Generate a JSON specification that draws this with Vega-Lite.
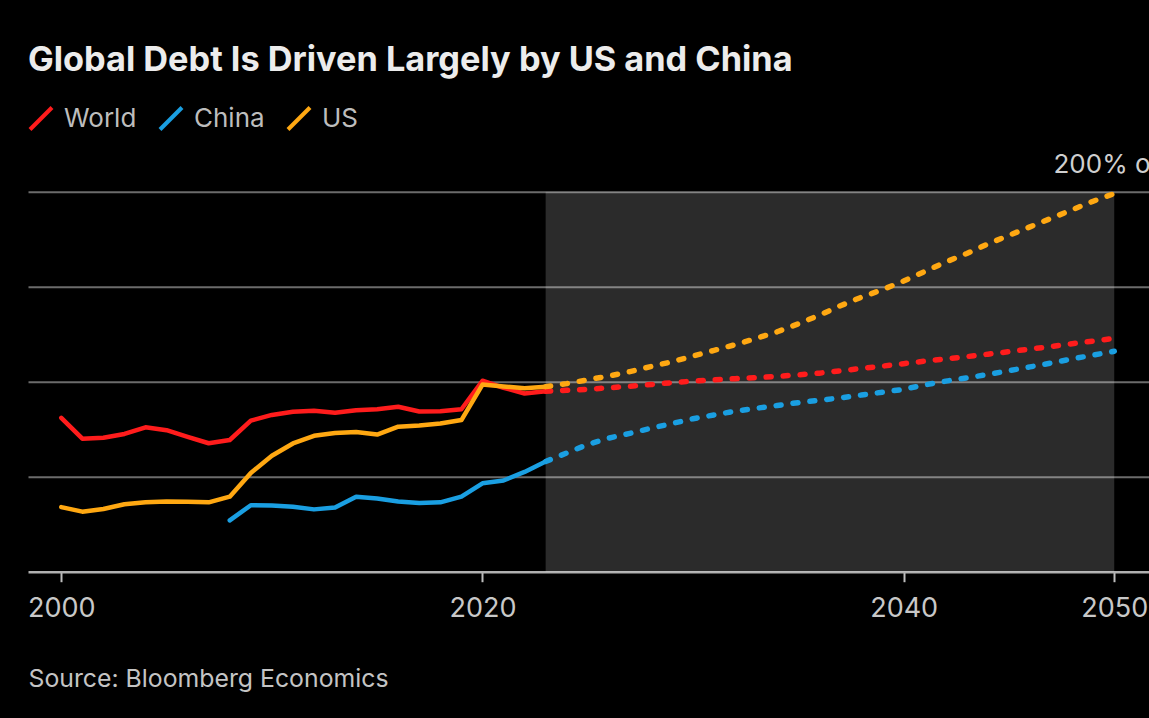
{
  "$schema": "https://vega.github.io/schema/vega-lite/v6.json",
  "width": 1121,
  "height": 380,
  "autosize": {"type": "none"},
  "padding": {"left": 28, "top": 191.7, "right": 0, "bottom": 146.3},
  "background": "#000000",
  "title": {
    "text": "Global Debt Is Driven Largely by US and China",
    "anchor": "start",
    "frame": "group",
    "offset": 0.5,
    "baseline": "alphabetic",
    "font": "Inter",
    "fontSize": 34.3,
    "fontWeight": 700,
    "color": "#ececec"
  },
  "config": {
    "view": {"stroke": null},
    "legend": {
      "symbolType": "M-1,1L1,-1",
      "symbolSize": 484,
      "symbolStrokeWidth": 4,
      "symbolDash": [],
      "labelFont": "Inter",
      "labelFontSize": 26,
      "labelColor": "#bdbdbd",
      "labelOffset": 10,
      "columnPadding": 15,
      "padding": 0,
      "labelLimit": 400
    }
  },
  "datasets": {
    "band": [{"start": 2023, "end": 2050}],
    "debt": [
      {"year": 2000, "value": 81, "country": "World", "kind": "actual"},
      {"year": 2001, "value": 70, "country": "World", "kind": "actual"},
      {"year": 2002, "value": 70.5, "country": "World", "kind": "actual"},
      {"year": 2003, "value": 72.5, "country": "World", "kind": "actual"},
      {"year": 2004, "value": 76, "country": "World", "kind": "actual"},
      {"year": 2005, "value": 74.5, "country": "World", "kind": "actual"},
      {"year": 2006, "value": 71, "country": "World", "kind": "actual"},
      {"year": 2007, "value": 67.6, "country": "World", "kind": "actual"},
      {"year": 2008, "value": 69.3, "country": "World", "kind": "actual"},
      {"year": 2009, "value": 79.5, "country": "World", "kind": "actual"},
      {"year": 2010, "value": 82.5, "country": "World", "kind": "actual"},
      {"year": 2011, "value": 84.2, "country": "World", "kind": "actual"},
      {"year": 2012, "value": 84.7, "country": "World", "kind": "actual"},
      {"year": 2013, "value": 83.7, "country": "World", "kind": "actual"},
      {"year": 2014, "value": 85, "country": "World", "kind": "actual"},
      {"year": 2015, "value": 85.5, "country": "World", "kind": "actual"},
      {"year": 2016, "value": 86.8, "country": "World", "kind": "actual"},
      {"year": 2017, "value": 84.3, "country": "World", "kind": "actual"},
      {"year": 2018, "value": 84.5, "country": "World", "kind": "actual"},
      {"year": 2019, "value": 85.5, "country": "World", "kind": "actual"},
      {"year": 2020, "value": 100.5, "country": "World", "kind": "actual"},
      {"year": 2021, "value": 96.8, "country": "World", "kind": "actual"},
      {"year": 2022, "value": 93.8, "country": "World", "kind": "actual"},
      {"year": 2023, "value": 95, "country": "World", "kind": "actual"},
      {"year": 2008, "value": 27, "country": "China", "kind": "actual"},
      {"year": 2009, "value": 35, "country": "China", "kind": "actual"},
      {"year": 2010, "value": 34.8, "country": "China", "kind": "actual"},
      {"year": 2011, "value": 34.2, "country": "China", "kind": "actual"},
      {"year": 2012, "value": 32.8, "country": "China", "kind": "actual"},
      {"year": 2013, "value": 33.8, "country": "China", "kind": "actual"},
      {"year": 2014, "value": 39.5, "country": "China", "kind": "actual"},
      {"year": 2015, "value": 38.5, "country": "China", "kind": "actual"},
      {"year": 2016, "value": 37, "country": "China", "kind": "actual"},
      {"year": 2017, "value": 36.2, "country": "China", "kind": "actual"},
      {"year": 2018, "value": 36.5, "country": "China", "kind": "actual"},
      {"year": 2019, "value": 39.5, "country": "China", "kind": "actual"},
      {"year": 2020, "value": 46.5, "country": "China", "kind": "actual"},
      {"year": 2021, "value": 48, "country": "China", "kind": "actual"},
      {"year": 2022, "value": 52.5, "country": "China", "kind": "actual"},
      {"year": 2023, "value": 58, "country": "China", "kind": "actual"},
      {"year": 2000, "value": 34, "country": "US", "kind": "actual"},
      {"year": 2001, "value": 31.6, "country": "US", "kind": "actual"},
      {"year": 2002, "value": 33, "country": "US", "kind": "actual"},
      {"year": 2003, "value": 35.5, "country": "US", "kind": "actual"},
      {"year": 2004, "value": 36.5, "country": "US", "kind": "actual"},
      {"year": 2005, "value": 37, "country": "US", "kind": "actual"},
      {"year": 2006, "value": 36.8, "country": "US", "kind": "actual"},
      {"year": 2007, "value": 36.5, "country": "US", "kind": "actual"},
      {"year": 2008, "value": 39.5, "country": "US", "kind": "actual"},
      {"year": 2009, "value": 52, "country": "US", "kind": "actual"},
      {"year": 2010, "value": 61, "country": "US", "kind": "actual"},
      {"year": 2011, "value": 67.5, "country": "US", "kind": "actual"},
      {"year": 2012, "value": 71.5, "country": "US", "kind": "actual"},
      {"year": 2013, "value": 73, "country": "US", "kind": "actual"},
      {"year": 2014, "value": 73.5, "country": "US", "kind": "actual"},
      {"year": 2015, "value": 72.2, "country": "US", "kind": "actual"},
      {"year": 2016, "value": 76.3, "country": "US", "kind": "actual"},
      {"year": 2017, "value": 77, "country": "US", "kind": "actual"},
      {"year": 2018, "value": 78, "country": "US", "kind": "actual"},
      {"year": 2019, "value": 79.8, "country": "US", "kind": "actual"},
      {"year": 2020, "value": 98.5, "country": "US", "kind": "actual"},
      {"year": 2021, "value": 97.5, "country": "US", "kind": "actual"},
      {"year": 2022, "value": 96.5, "country": "US", "kind": "actual"},
      {"year": 2023, "value": 97.4, "country": "US", "kind": "actual"},
      {"year": 2023, "value": 95, "country": "World", "kind": "forecast"},
      {"year": 2024, "value": 95.5, "country": "World", "kind": "forecast"},
      {"year": 2025, "value": 96, "country": "World", "kind": "forecast"},
      {"year": 2026, "value": 96.8, "country": "World", "kind": "forecast"},
      {"year": 2027, "value": 97.6, "country": "World", "kind": "forecast"},
      {"year": 2028, "value": 98.5, "country": "World", "kind": "forecast"},
      {"year": 2029, "value": 99.5, "country": "World", "kind": "forecast"},
      {"year": 2030, "value": 100.3, "country": "World", "kind": "forecast"},
      {"year": 2031, "value": 101, "country": "World", "kind": "forecast"},
      {"year": 2032, "value": 101.6, "country": "World", "kind": "forecast"},
      {"year": 2033, "value": 102.2, "country": "World", "kind": "forecast"},
      {"year": 2034, "value": 102.8, "country": "World", "kind": "forecast"},
      {"year": 2035, "value": 103.6, "country": "World", "kind": "forecast"},
      {"year": 2036, "value": 104.5, "country": "World", "kind": "forecast"},
      {"year": 2037, "value": 105.7, "country": "World", "kind": "forecast"},
      {"year": 2038, "value": 107, "country": "World", "kind": "forecast"},
      {"year": 2039, "value": 108.2, "country": "World", "kind": "forecast"},
      {"year": 2040, "value": 109.5, "country": "World", "kind": "forecast"},
      {"year": 2041, "value": 110.8, "country": "World", "kind": "forecast"},
      {"year": 2042, "value": 112, "country": "World", "kind": "forecast"},
      {"year": 2043, "value": 113.2, "country": "World", "kind": "forecast"},
      {"year": 2044, "value": 114.5, "country": "World", "kind": "forecast"},
      {"year": 2045, "value": 115.8, "country": "World", "kind": "forecast"},
      {"year": 2046, "value": 117.2, "country": "World", "kind": "forecast"},
      {"year": 2047, "value": 118.5, "country": "World", "kind": "forecast"},
      {"year": 2048, "value": 120, "country": "World", "kind": "forecast"},
      {"year": 2049, "value": 121.4, "country": "World", "kind": "forecast"},
      {"year": 2050, "value": 122.8, "country": "World", "kind": "forecast"},
      {"year": 2023, "value": 58, "country": "China", "kind": "forecast"},
      {"year": 2024, "value": 62.5, "country": "China", "kind": "forecast"},
      {"year": 2025, "value": 67, "country": "China", "kind": "forecast"},
      {"year": 2026, "value": 70.3, "country": "China", "kind": "forecast"},
      {"year": 2027, "value": 72.8, "country": "China", "kind": "forecast"},
      {"year": 2028, "value": 75.5, "country": "China", "kind": "forecast"},
      {"year": 2029, "value": 78, "country": "China", "kind": "forecast"},
      {"year": 2030, "value": 80.5, "country": "China", "kind": "forecast"},
      {"year": 2031, "value": 82.5, "country": "China", "kind": "forecast"},
      {"year": 2032, "value": 84.5, "country": "China", "kind": "forecast"},
      {"year": 2033, "value": 86, "country": "China", "kind": "forecast"},
      {"year": 2034, "value": 87.5, "country": "China", "kind": "forecast"},
      {"year": 2035, "value": 89, "country": "China", "kind": "forecast"},
      {"year": 2036, "value": 90.2, "country": "China", "kind": "forecast"},
      {"year": 2037, "value": 91.5, "country": "China", "kind": "forecast"},
      {"year": 2038, "value": 93, "country": "China", "kind": "forecast"},
      {"year": 2039, "value": 94.5, "country": "China", "kind": "forecast"},
      {"year": 2040, "value": 96, "country": "China", "kind": "forecast"},
      {"year": 2041, "value": 98.3, "country": "China", "kind": "forecast"},
      {"year": 2042, "value": 100.3, "country": "China", "kind": "forecast"},
      {"year": 2043, "value": 102, "country": "China", "kind": "forecast"},
      {"year": 2044, "value": 103.8, "country": "China", "kind": "forecast"},
      {"year": 2045, "value": 105.8, "country": "China", "kind": "forecast"},
      {"year": 2046, "value": 107.8, "country": "China", "kind": "forecast"},
      {"year": 2047, "value": 109.8, "country": "China", "kind": "forecast"},
      {"year": 2048, "value": 112, "country": "China", "kind": "forecast"},
      {"year": 2049, "value": 114, "country": "China", "kind": "forecast"},
      {"year": 2050, "value": 116, "country": "China", "kind": "forecast"},
      {"year": 2023, "value": 97.4, "country": "US", "kind": "forecast"},
      {"year": 2024, "value": 99, "country": "US", "kind": "forecast"},
      {"year": 2025, "value": 101, "country": "US", "kind": "forecast"},
      {"year": 2026, "value": 103, "country": "US", "kind": "forecast"},
      {"year": 2027, "value": 105.3, "country": "US", "kind": "forecast"},
      {"year": 2028, "value": 108, "country": "US", "kind": "forecast"},
      {"year": 2029, "value": 110.5, "country": "US", "kind": "forecast"},
      {"year": 2030, "value": 113.5, "country": "US", "kind": "forecast"},
      {"year": 2031, "value": 116.5, "country": "US", "kind": "forecast"},
      {"year": 2032, "value": 119.5, "country": "US", "kind": "forecast"},
      {"year": 2033, "value": 122.8, "country": "US", "kind": "forecast"},
      {"year": 2034, "value": 126.3, "country": "US", "kind": "forecast"},
      {"year": 2035, "value": 130.5, "country": "US", "kind": "forecast"},
      {"year": 2036, "value": 135, "country": "US", "kind": "forecast"},
      {"year": 2037, "value": 140, "country": "US", "kind": "forecast"},
      {"year": 2038, "value": 144.5, "country": "US", "kind": "forecast"},
      {"year": 2039, "value": 148.5, "country": "US", "kind": "forecast"},
      {"year": 2040, "value": 153, "country": "US", "kind": "forecast"},
      {"year": 2041, "value": 158, "country": "US", "kind": "forecast"},
      {"year": 2042, "value": 163, "country": "US", "kind": "forecast"},
      {"year": 2043, "value": 167.5, "country": "US", "kind": "forecast"},
      {"year": 2044, "value": 172.5, "country": "US", "kind": "forecast"},
      {"year": 2045, "value": 177, "country": "US", "kind": "forecast"},
      {"year": 2046, "value": 181.5, "country": "US", "kind": "forecast"},
      {"year": 2047, "value": 186, "country": "US", "kind": "forecast"},
      {"year": 2048, "value": 190.5, "country": "US", "kind": "forecast"},
      {"year": 2049, "value": 195, "country": "US", "kind": "forecast"},
      {"year": 2050, "value": 199, "country": "US", "kind": "forecast"}
    ]
  },
  "resolve": {"axis": {"y": "independent"}},
  "layer": [
    {
      "data": {"name": "band"},
      "mark": {"type": "rect", "fill": "#ffffff", "opacity": 0.17},
      "encoding": {
        "x": {
          "field": "start", "type": "quantitative",
          "scale": {"domain": [1998.42, 2051.65], "nice": false, "zero": false},
          "axis": {
            "values": [2000, 2020, 2040, 2050], "format": "d", "grid": false,
            "labelFont": "Inter", "labelFontSize": 27, "labelColor": "#c8c8c8",
            "labelPadding": 14, "labelFlush": false, "labelOverlap": false,
            "tickColor": "#bdbdbd", "tickSize": 10, "tickWidth": 2,
            "domainColor": "#b0b0b0", "domainWidth": 2.5,
            "title": "Source: Bloomberg Economics", "titleFont": "Inter", "titleFontSize": 24.8,
            "titleFontWeight": 400, "titleColor": "#c4c4c4", "titleX": 0, "titleY": 115,
            "titleAlign": "left", "titleBaseline": "alphabetic", "titleAnchor": "start"
          }
        },
        "x2": {"field": "end"},
        "y": {"datum": 0, "type": "quantitative", "scale": {"domain": [0, 200], "nice": false}, "axis": null},
        "y2": {"datum": 200}
      }
    },
    {
      "data": {"name": "debt"},
      "transform": [{"filter": "datum.kind === 'actual'"}],
      "mark": {"type": "line", "strokeWidth": 4.5, "strokeJoin": "round", "strokeCap": "round"},
      "encoding": {
        "x": {
          "field": "year", "type": "quantitative",
          "scale": {"domain": [1998.42, 2051.65], "nice": false, "zero": false},
          "axis": {
            "values": [2000, 2020, 2040, 2050], "format": "d", "grid": false,
            "labelFont": "Inter", "labelFontSize": 27, "labelColor": "#c8c8c8",
            "labelPadding": 14, "labelFlush": false, "labelOverlap": false,
            "tickColor": "#bdbdbd", "tickSize": 10, "tickWidth": 2,
            "domainColor": "#b0b0b0", "domainWidth": 2.5,
            "title": "Source: Bloomberg Economics", "titleFont": "Inter", "titleFontSize": 24.8,
            "titleFontWeight": 400, "titleColor": "#c4c4c4", "titleX": 0, "titleY": 115,
            "titleAlign": "left", "titleBaseline": "alphabetic", "titleAnchor": "start"
          }
        },
        "y": {
          "field": "value", "type": "quantitative",
          "scale": {"domain": [0, 200], "nice": false},
          "axis": {
            "values": [50, 100, 150, 200], "grid": true, "gridColor": "#6b6b6b", "gridWidth": 2,
            "labels": false, "ticks": false, "domain": false, "title": null
          }
        },
        "color": {
          "field": "country", "type": "nominal",
          "scale": {"domain": ["World", "China", "US"], "range": ["#ff1c1c", "#1a9fe2", "#ffa812"]},
          "legend": {"orient": "none", "legendX": 0, "legendY": -86.2, "direction": "horizontal", "title": null}
        }
      }
    },
    {
      "data": {"name": "debt"},
      "transform": [{"filter": "datum.kind === 'forecast'"}],
      "mark": {"type": "line", "strokeWidth": 5.5, "strokeCap": "round", "strokeDash": [5, 12]},
      "encoding": {
        "x": {
          "field": "year", "type": "quantitative",
          "scale": {"domain": [1998.42, 2051.65], "nice": false, "zero": false},
          "axis": {
            "values": [2000, 2020, 2040, 2050], "format": "d", "grid": false,
            "labelFont": "Inter", "labelFontSize": 27, "labelColor": "#c8c8c8",
            "labelPadding": 14, "labelFlush": false, "labelOverlap": false,
            "tickColor": "#bdbdbd", "tickSize": 10, "tickWidth": 2,
            "domainColor": "#b0b0b0", "domainWidth": 2.5,
            "title": "Source: Bloomberg Economics", "titleFont": "Inter", "titleFontSize": 24.8,
            "titleFontWeight": 400, "titleColor": "#c4c4c4", "titleX": 0, "titleY": 115,
            "titleAlign": "left", "titleBaseline": "alphabetic", "titleAnchor": "start"
          }
        },
        "y": {
          "field": "value", "type": "quantitative",
          "scale": {"domain": [0, 200], "nice": false},
          "axis": {
            "orient": "right", "values": [200], "grid": false, "domain": false, "ticks": false,
            "tickSize": 0, "labelExpr": "'200% of GDP'", "labelAlign": "left",
            "labelBaseline": "alphabetic", "labelPadding": -96, "labelOffset": -19.5,
            "labelFont": "Inter", "labelFontSize": 26, "labelColor": "#cfcfcf",
            "labelFlush": false, "labelOverlap": false, "title": null
          }
        },
        "color": {
          "field": "country", "type": "nominal",
          "scale": {"domain": ["World", "China", "US"], "range": ["#ff1c1c", "#1a9fe2", "#ffa812"]},
          "legend": {"orient": "none", "legendX": 0, "legendY": -86.2, "direction": "horizontal", "title": null}
        }
      }
    }
  ]
}
